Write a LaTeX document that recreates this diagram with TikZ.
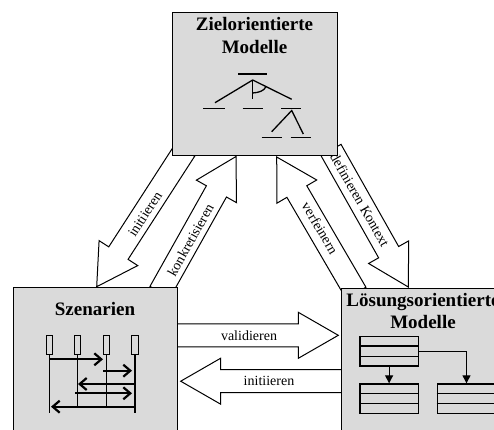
\documentclass[tikz,border=0pt]{standalone}
\usepackage{fontspec}
\setmainfont{Liberation Serif}
\usetikzlibrary{calc,arrows.meta}
\definecolor{boxgray}{RGB}{218,218,218}
\tikzset{
 box/.style={draw=black, line width=1.4pt, fill=boxgray, inner sep=0pt, anchor=north west},
 title/.style={font=\fontsize{19}{22}\selectfont\bfseries, anchor=base, inner sep=0pt},
 lbl/.style={font=\fontsize{14}{16}\selectfont, inner sep=0pt},
 fat/.style={draw=black, fill=white, line width=1pt, line join=miter},
 tree/.style={line width=1.3pt},
 life/.style={line width=1.2pt},
 msg/.style={line width=2.2pt, -{Straight Barb[length=7pt,width=12pt]}},
 cls/.style={draw, line width=1.2pt, inner sep=0pt, anchor=north west, minimum width=58.4pt, minimum height=29.6pt},
 assoc/.style={line width=1.2pt, -{Triangle[length=8pt,width=8pt]}},
}
\newcommand{\fatarrow}[2]{%
 \coordinate (fb) at ($(#2)!40pt!(#1)$);
 \draw[fat] ($(#1)!11.5pt!90:(#2)$) -- ($(fb)!11.5pt!90:(#2)$) -- ($(fb)!23pt!90:(#2)$) -- (#2)
   -- ($(fb)!23pt!-90:(#2)$) -- ($(fb)!11.5pt!-90:(#2)$) -- ($(#1)!11.5pt!-90:(#2)$) -- cycle;
}
\begin{document}
\begin{tikzpicture}[x=1pt,y=-1pt]
\useasboundingbox (0,0) rectangle (494,429);
% connector end points
\coordinate (t1) at (185,150);   \coordinate (h1) at (96.7,286.7);
\coordinate (t2) at (160,292);   \coordinate (h2) at (236,156.5);
\coordinate (t3) at (356,293);   \coordinate (h3) at (276.7,157);
\coordinate (t4) at (331,150);   \coordinate (h4) at (408.3,287);
\coordinate (t5) at (170,335.3); \coordinate (h5) at (338.3,335.3);
\coordinate (t6) at (350,381.2); \coordinate (h6) at (180.7,381.2);
\fatarrow{t1}{h1}
\fatarrow{t2}{h2}
\fatarrow{t3}{h3}
\fatarrow{t4}{h4}
\fatarrow{t5}{h5}
\fatarrow{t6}{h6}
\node[lbl, rotate=57] (l1) at (145,214) {initiieren};
\node[lbl, rotate=60.6] (l2) at (190.5,240) {konkretisieren};
\node[lbl, rotate=-59.5] (l3) at (320,228) {verfeinern};
\node[lbl, rotate=-60.3] (l4) at (360,200) {definieren Kontext};
\node[lbl, anchor=base] (l5) at (249,340) {validieren};
\node[lbl, anchor=base] (l6) at (269,385.7) {initiieren};
% boxes
\node[box, minimum width=165pt, minimum height=143pt] (ziel) at (172,12) {};
\node[box, minimum width=164pt, minimum height=160pt] (szen) at (13,287) {};
\node[box, minimum width=164pt, minimum height=160pt] (loes) at (341,288) {};
\node[title] (zt1) at (254.5,30) {Zielorientierte};
\node[title] (zt2) at (254.5,53.3) {Modelle};
\node[title] (st) at (95,315) {Szenarien};
\node[title] (lt1) at (423,306) {Lösungsorientierte};
\node[title] (lt2) at (423,328) {Modelle};
% goal tree
\draw[tree] (238,74) -- (267,74);
\draw[tree] (215,102.7) -- (252.7,80) -- (291.7,99.3);
\draw[tree] (252.7,80) -- (252.7,99.3);
\draw[tree] (252.7,93) .. controls (259,92.5) and (264,91) .. (266,86.6);
\draw[tree] (203.3,108.3) -- (225,108.3);
\draw[tree] (242.7,108.3) -- (262.7,108.3);
\draw[tree] (281,108.3) -- (301,108.3);
\draw[tree] (271.7,131.7) -- (291.7,110.5) -- (303.3,134);
\draw[tree] (261.7,137.7) -- (281.7,137.7);
\draw[tree] (290.7,137.7) -- (311,137.7);
% sequence diagram
\foreach \x in {49.3,77.7,106.3,135} {
  \draw[line width=1pt] (\x-3.2,335) rectangle (\x+3.2,354);
}
\draw[life] (49.3,354) -- (49.3,413);
\draw[life] (77.7,354) -- (77.7,406.7);
\draw[life] (106.3,354) -- (106.3,406.7);
\draw[life] (135,354) -- (135,413);
\draw[msg] (49.3,359.3) -- (103,359.3);
\draw[msg] (103.3,370.7) -- (132,370.7);
\draw[msg] (135,384) -- (78,384);
\draw[msg] (75,393.3) -- (132,393.3);
\draw[msg] (136,406.7) -- (51,406.7);
% class diagram
\node[cls] (cA) at (359.3,335.7) {};
\node[cls] (cB) at (359.3,383.3) {};
\node[cls] (cC) at (436.7,383.3) {};
\foreach \c in {cA,cB,cC} {
  \draw[line width=1.2pt] ($(\c.north west)!1/3!(\c.south west)$) -- ($(\c.north east)!1/3!(\c.south east)$);
  \draw[line width=1.2pt] ($(\c.north west)!2/3!(\c.south west)$) -- ($(\c.north east)!2/3!(\c.south east)$);
}
\draw[assoc] (cA.south) -- (cB.north);
\draw[assoc] (cA.east) -| (cC.north);
\end{tikzpicture}
\end{document}
